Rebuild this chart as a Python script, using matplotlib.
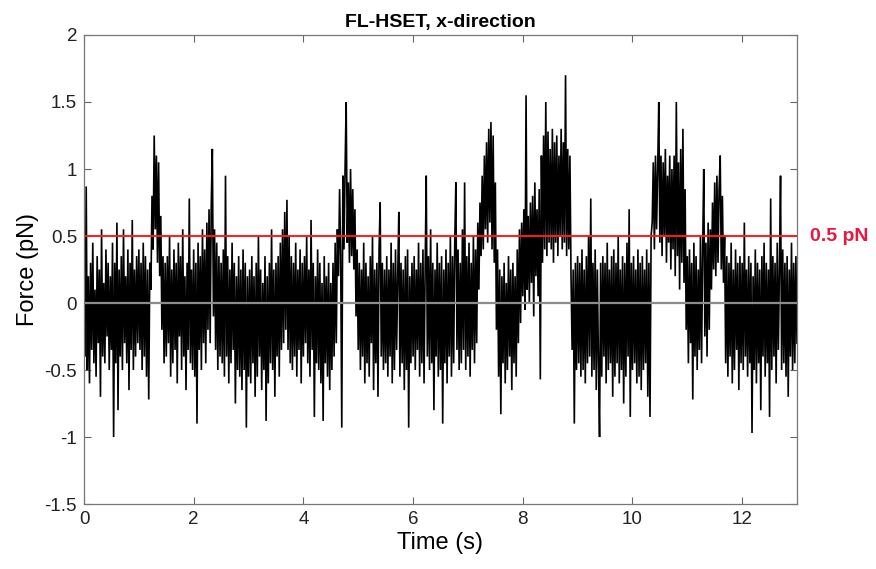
import numpy as np
import matplotlib
matplotlib.use("Agg")
import matplotlib.pyplot as plt

plt.rcParams['font.family'] = ['Liberation Sans', 'DejaVu Sans']
plt.rcParams['axes.unicode_minus'] = False

force = [
    0.35, -0.40, 0.87, -0.50, 0.20, -0.60, 0.30, -0.35, 0.45, -0.45, 0.10, -0.55, 0.35, -0.30, 0.25, -0.70, 0.55, -0.40, 0.15, -0.45, 0.40, -0.25, 0.30, -0.50, 0.20,
    -0.35, 0.45, -1.00, 0.30, -0.45, 0.60, -0.80, 0.25, -0.40, 0.35, -0.50, 0.55, -0.30, 0.20, -0.45, 0.40, -0.65, 0.30, -0.35, 0.62, -0.50, 0.25, -0.40, 0.35, -0.30,
    0.40, -0.35, 0.30, -0.50, 0.45, -0.40, 0.35, -0.55, 0.25, -0.72, 0.30, 0.10, 0.80, 0.40, 1.25, 0.55, 1.10, 0.30, 1.05, 0.20, 0.65, -0.20, 0.35, -0.45, 0.30,
    -0.40, 0.35, -0.30, 0.50, -0.55, 0.25, -0.45, 0.40, -0.35, 0.30, -0.60, 0.45, -0.25, 0.35, -0.50, 0.55, -0.40, 0.20, -0.65, 0.30, -0.35, 0.78, -0.45, 0.25, -0.50,
    0.40, -0.55, 0.30, -0.90, 0.45, -0.35, 0.35, -0.50, 0.55, -0.30, 0.40, -0.45, 0.60, -0.20, 0.70, -0.30, 0.73, 1.15, -0.10, 0.55, -0.35, 0.45, -0.50, 0.35, -0.40,
    0.30, -0.45, 0.40, -0.55, 0.95, -0.40, 0.35, -0.60, 0.25, -0.45, 0.45, -0.35, 0.30, -0.75, 0.20, -0.50, 0.35, -0.55, 0.25, -0.65, 0.40, -0.50, 0.30, -0.93, 0.20,
    -0.55, 0.25, -0.60, 0.35, -0.45, 0.20, -0.70, 0.30, -0.55, 0.50, -0.40, 0.25, -0.65, 0.15, -0.50, 0.35, -0.88, 0.20, -0.60, 0.30, -0.45, 0.55, -0.50, 0.25, -0.70,
    0.30, -0.40, 0.35, -0.55, 0.45, -0.35, 0.55, -0.30, 0.68, -0.20, 0.77, -0.35, 0.50, -0.45, 0.35, -0.50, 0.30, -0.40, 0.45, -0.55, 0.25, -0.35, 0.40, -0.60, 0.30,
    -0.40, 0.35, -0.30, 0.50, -0.45, 0.25, -0.55, 0.62, -0.35, 0.30, -0.85, 0.20, -0.45, 0.40, -0.50, 0.30, -0.60, 0.15, -0.88, 0.35, -0.45, 0.20, -0.55, 0.30, -0.65,
    0.15, -0.50, 0.30, -0.40, 0.45, -0.30, 0.55, 0.20, 0.85, 0.35, -0.93, 0.95, 0.40, 1.00, 1.50, 0.45, 0.90, 0.30, 1.00, 0.35, 0.85, 0.25, 0.70, -0.10, 0.40,
    -0.35, 0.30, -0.50, 0.25, -0.40, 0.45, -0.60, 0.30, -0.45, 0.20, -0.55, 0.35, -0.30, 0.50, -0.65, 0.25, -0.45, 0.30, -0.70, 0.40, 0.75, -0.40, 0.30, -0.50, 0.25,
    -0.45, 0.35, -0.55, 0.25, -0.40, 0.45, -0.60, 0.30, -0.50, 0.40, -0.35, 0.20, 0.68, -0.55, 0.30, -0.45, 0.25, -0.65, 0.35, -0.50, 0.40, -0.93, 0.20, -0.45, 0.30,
    -0.40, 0.35, -0.50, 0.25, -0.35, 0.45, -0.55, 0.30, -0.45, 0.40, -0.60, 0.25, 0.95, -0.40, 0.35, -0.50, 0.55, -0.45, 0.30, -0.80, 0.25, -0.40, 0.45, -0.55, 0.30,
    -0.50, 0.35, -0.90, 0.25, -0.45, 0.40, -0.60, 0.30, -0.40, 0.50, -0.55, 0.35, -0.45, 0.45, 0.90, -0.35, 0.40, -0.50, 0.30, -0.45, 0.55, -0.35, 0.90, -0.50, 0.35,
    -0.40, 0.45, -0.55, 0.30, -0.35, 0.50, -0.45, 0.40, -0.30, 0.60, 0.10, 0.75, 0.35, 0.95, 0.40, 1.10, 0.55, 1.20, 0.45, 1.30, 0.60, 1.35, 0.40, 1.25, 0.30,
    0.90, -0.20, 0.40, -0.55, 0.25, -0.83, 0.20, -0.45, 0.30, -0.60, 0.15, -0.50, 0.35, -0.40, 0.25, -0.65, 0.30, -0.45, 0.20, -0.55, 0.40, -0.30, 0.55, -0.15, 0.60,
    0.05, 0.70, -0.05, 1.55, 0.10, 0.65, 0.00, 0.75, 0.15, 0.80, -0.10, 0.90, 0.20, 0.70, 0.05, 0.85, -0.57, 1.10, 0.30, 1.25, 0.40, 1.50, 0.35, 1.28, 0.45,
    1.15, 0.40, 1.30, 0.30, 1.20, 0.45, 1.25, 0.35, 1.10, 0.50, 1.30, 0.40, 1.20, 0.45, 1.70, 0.35, 1.15, 0.40, 1.10, 0.20, -0.35, 0.25, -0.90, 0.30, -0.50,
    0.35, -0.45, 0.30, -0.55, 0.40, -0.50, 0.25, -0.60, 0.35, -0.45, 0.50, -0.40, 0.78, -0.55, 0.30, -0.50, 0.40, -0.65, 0.25, -0.45, -1.00, 0.30, -0.55, 0.35, -0.40,
    0.30, -0.60, 0.45, -0.50, 0.25, -0.45, 0.35, -0.70, 0.40, -0.55, 0.30, -0.45, 0.50, -0.60, 0.25, -0.50, 0.35, -0.75, 0.30, -0.55, 0.45, -0.40, 0.70, -0.85, 0.30,
    -0.50, 0.35, -0.45, 0.25, -0.60, 0.40, -0.55, 0.30, -0.65, 0.35, -0.50, 0.25, -0.45, 0.40, -0.70, 0.30, -0.85, 0.50, 0.60, 1.05, 0.40, 1.10, 0.55, 1.00, 1.50,
    0.45, 1.10, 0.35, 1.05, 0.50, 1.15, 0.30, 0.95, 0.45, 1.10, 0.25, 1.00, 0.40, 1.10, 0.20, 1.50, 0.35, 1.05, 0.10, 1.15, 0.30, 1.30, 0.15, 0.85, -0.20,
    0.35, -0.45, 0.40, -0.30, 0.30, -0.72, 0.45, -0.40, 0.35, -0.50, 0.25, -0.35, 0.50, -0.45, 0.40, 1.00, -0.25, 0.45, -0.40, 0.60, -0.20, 0.55, 0.10, 0.75, 0.25,
    0.90, 0.20, 0.95, 0.30, 0.85, 1.10, 0.25, 0.80, 0.15, 0.50, -0.45, 0.35, -0.55, 0.30, -0.40, 0.45, -0.60, 0.25, -0.50, 0.40, -0.35, 0.30, -0.65, 0.35, -0.45,
    0.30, -0.50, 0.60, -0.40, 0.25, -0.55, 0.35, -0.45, 0.30, -0.97, 0.20, -0.50, 0.40, -0.60, 0.30, -0.45, 0.25, -0.80, 0.35, -0.40, 0.45, -0.55, 0.30, -0.45, 0.25,
    -0.85, 0.78, -0.50, 0.35, -0.40, 0.30, -0.60, 0.45, -0.35, 0.25, 0.95, -0.50, 0.40, -0.45, 0.30, -0.55, 0.35, -0.70, 0.25, -0.40, 0.45, -0.50, 0.30, -0.45, 0.35, -0.30,
]
t_start, t_end = 0.0, 13.0
threshold = 0.5
threshold_label = "0.5 pN"
x_ticks = [0, 2, 4, 6, 8, 10, 12]
y_ticks = [-1.5, -1, -0.5, 0, 0.5, 1, 1.5, 2]
y_tick_labels = ["-1.5", "-1", "-0.5", "0", "0.5", "1", "1.5", "2"]

time = np.linspace(t_start, t_end, len(force))

fig = plt.figure(figsize=(8.76, 5.69), dpi=100)
ax = fig.add_axes([0.0959, 0.1142, 0.8139, 0.8243])

ax.plot(time, force, color='black', linewidth=1.2, antialiased=True,
        solid_joinstyle='miter')
ax.axhline(0, color='#8c8c8c', linewidth=1.6)
ax.axhline(threshold, color='#ff1a1a', linewidth=1.4)

ax.set_xlim(t_start, t_end)
ax.set_ylim(-1.5, 2)
ax.set_xticks(x_ticks)
ax.set_xticklabels([str(v) for v in x_ticks])
ax.set_yticks(y_ticks)
ax.set_yticklabels(y_tick_labels)
ax.tick_params(direction='in', length=5, width=0.8, color='#666666',
               labelsize=13.5, labelcolor='#222222', top=True, right=True, pad=5)
for s in ax.spines.values():
    s.set_color('#777777')
    s.set_linewidth(0.9)

ax.set_title("FL-HSET, x-direction", fontsize=14, fontweight='bold', pad=6)
ax.set_xlabel("Time (s)", fontsize=17, labelpad=3)
ax.set_ylabel("Force (pN)", fontsize=17, labelpad=4)

ax.text(1.018, (threshold + 1.5) / 3.5, threshold_label, transform=ax.transAxes,
        color='#e8173f', fontsize=14, fontweight='bold', va='center', ha='left')

fig.savefig("out.png", dpi=100)
